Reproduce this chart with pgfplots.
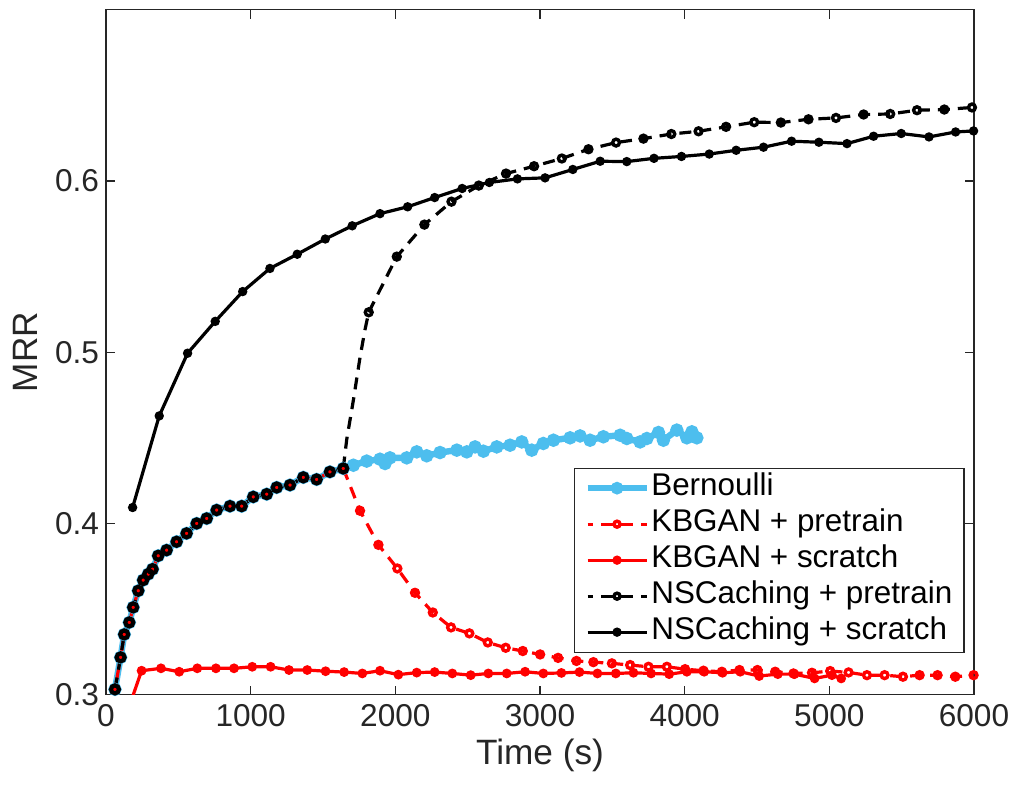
\documentclass[border=0pt]{standalone}
\usepackage{pgfplots}
\pgfplotsset{compat=1.18}
\usepackage{fontspec}
\setmainfont{Liberation Sans}
\definecolor{mblue}{rgb}{0.301,0.745,0.933}
\definecolor{axgray}{rgb}{0.15,0.15,0.15}
\begin{document}
\begin{tikzpicture}
\useasboundingbox (-53pt,-45.2pt) rectangle (456pt,347.35pt);
\begin{axis}[
  scale only axis, width=434pt, height=342.5pt,
  xmin=0, xmax=6000, ymin=0.3, ymax=0.7,
  xtick={0,1000,...,6000}, ytick={0.3,0.4,0.5,0.6},
  /pgf/number format/1000 sep={},
  /pgf/number format/assume math mode=true,
  yticklabel style={/pgf/number format/fixed, /pgf/number format/precision=1, /pgf/number format/fixed zerofill},
  tick align=inside, major tick length=4.5pt,
  axis line style={axgray, line width=0.6pt},
  every tick/.style={axgray, line width=0.6pt},
  tick label style={font=\fontsize{15.8}{19}\selectfont, color=axgray},
  xticklabel style={yshift=-1.2pt},
  xlabel={Time (s)}, ylabel={MRR},
  label style={font=\fontsize{17.6}{21}\selectfont, color=axgray},
  xlabel style={at={(axis description cs:0.5,0)}, anchor=base, yshift=-35pt},
  ylabel style={at={(axis description cs:-0.0933,0.5)}, anchor=center},
  legend style={at={(axis description cs:0.9892,0.0612)}, anchor=south east,
    draw=axgray, line width=0.6pt, font=\fontsize{15.7}{18}\selectfont,
    row sep=0pt, inner xsep=5pt, inner ysep=1pt,
    nodes={inner ysep=0pt, inner xsep=0.8pt, text height=12.5pt, text depth=5.5pt}},
  legend cell align=left,
  legend image code/.code={\draw[mark repeat=2,mark phase=2,#1,dash phase=3.25pt] plot coordinates {(0pt,0pt) (14.75pt,0pt) (29.5pt,0pt)};},
  legend image post style={mark size=1.5pt},
]
% Bernoulli
\addplot[color=mblue, line width=3.2pt, mark=*, mark size=1.7pt, mark options={draw=none}] coordinates {
(62,0.3031) (101,0.3218) (126,0.3352) (161,0.3422) (188,0.3510) (223,0.3607)
(257,0.3669) (292,0.3704) (322,0.3733) (361,0.3811) (419,0.3844) (488,0.3893)
(557,0.3942) (627,0.4000) (696,0.4029) (765,0.4078) (857,0.4101) (938,0.4101)
(1018,0.4155) (1111,0.4171) (1180,0.4210) (1272,0.4224) (1364,0.4269) (1456,0.4257)
(1548,0.4301) (1640,0.4321)
(1710,0.4340) (1802,0.4364) (1894,0.4375) (1929,0.4350) (1963,0.4383) (2079,0.4383)
(2148,0.4418) (2217,0.4395) (2309,0.4414) (2425,0.4428) (2494,0.4418) (2551,0.4447)
(2609,0.4422) (2701,0.4447) (2793,0.4457) (2874,0.4476) (2943,0.4428) (3023,0.4467)
(3093,0.4486) (3208,0.4500) (3277,0.4511) (3346,0.4486) (3438,0.4506) (3554,0.4515)
(3600,0.4496) (3692,0.4476) (3739,0.4496) (3819,0.4531) (3853,0.4486) (3946,0.4545)
(4015,0.4500) (4050,0.4535) (4084,0.4500)
};
\addlegendentry{Bernoulli}
% KBGAN + pretrain: shared first part
\addplot[forget plot, color=red, line width=1.6pt, mark=*, mark size=1.2pt] coordinates {
(62,0.3031) (101,0.3218) (126,0.3352) (161,0.3422) (188,0.3510) (223,0.3607)
(257,0.3669) (292,0.3704) (322,0.3733) (361,0.3811) (419,0.3844) (488,0.3893)
(557,0.3942) (627,0.4000) (696,0.4029) (765,0.4078) (857,0.4101) (938,0.4101)
(1018,0.4155) (1111,0.4171) (1180,0.4210) (1272,0.4224) (1364,0.4269) (1456,0.4257)
(1548,0.4301) (1640,0.4321)
};
% KBGAN + pretrain
\addplot[color=red, line width=1.6pt, dash pattern=on 6pt off 4pt, mark=o, mark size=1.7pt, mark options={solid, line width=1.7pt}] coordinates {
(1640,0.4321)
(1756,0.4074) (1883,0.3875) (2014,0.3737) (2136,0.3595) (2259,0.3480) (2385,0.3393)
(2512,0.3358) (2639,0.3305) (2763,0.3274) (2881,0.3255) (3001,0.3235) (3125,0.3215)
(3252,0.3197) (3369,0.3190) (3497,0.3183) (3623,0.3173) (3750,0.3163) (3877,0.3163)
(4003,0.3149) (4130,0.3140) (4257,0.3134) (4379,0.3144) (4503,0.3144) (4626,0.3134)
(4752,0.3124) (4880,0.3128) (5006,0.3138) (5133,0.3130) (5260,0.3114) (5382,0.3114)
(5509,0.3105) (5624,0.3114) (5748,0.3114) (5871,0.3105) (5997,0.3114)
};
\addlegendentry{KBGAN + pretrain}
% KBGAN + scratch
\addplot[color=red, line width=1.6pt, mark=*, mark size=1.6pt] coordinates {
(160,0.293) (246,0.3140) (380,0.3154) (506,0.3134) (631,0.3154) (760,0.3154)
(885,0.3154) (1011,0.3163) (1138,0.3163) (1265,0.3144) (1391,0.3144) (1518,0.3137)
(1646,0.3132) (1772,0.3124) (1894,0.3140) (2021,0.3117) (2148,0.3129) (2272,0.3132)
(2394,0.3124) (2521,0.3114) (2643,0.3124) (2770,0.3124) (2897,0.3134) (3023,0.3124)
(3148,0.3127) (3273,0.3132) (3397,0.3124) (3524,0.3124) (3646,0.3128) (3768,0.3124)
(3893,0.3120) (4015,0.3134) (4135,0.3134) (4262,0.3128) (4384,0.3134) (4515,0.3109)
(4644,0.3120) (4759,0.3120) (4898,0.3095) (5018,0.3114) (5082,0.3095)
};
\addlegendentry{KBGAN + scratch}
% NSCaching + pretrain: shared first part
\addplot[forget plot, color=black, line width=1.6pt, dash pattern=on 6pt off 4pt, mark=o, mark size=2pt, mark options={solid, line width=2.1pt}] coordinates {
(62,0.3031) (101,0.3218) (126,0.3352) (161,0.3422) (188,0.3510) (223,0.3607)
(257,0.3669) (292,0.3704) (322,0.3733) (361,0.3811) (419,0.3844) (488,0.3893)
(557,0.3942) (627,0.4000) (696,0.4029) (765,0.4078) (857,0.4101) (938,0.4101)
(1018,0.4155) (1111,0.4171) (1180,0.4210) (1272,0.4224) (1364,0.4269) (1456,0.4257)
(1548,0.4301) (1640,0.4321)
};
% NSCaching + pretrain: rise
\addplot[forget plot, color=black, line width=1.6pt, dash pattern=on 6pt off 4pt] coordinates {
(1640,0.4321) (1664,0.449) (1710,0.472) (1756,0.497) (1790,0.513) (1816,0.5233)
};
% NSCaching + pretrain: after
\addplot[color=black, line width=1.6pt, dash pattern=on 6pt off 4pt, mark=o, mark size=1.7pt, mark options={solid, line width=1.7pt}] coordinates {
(1816,0.5233) (2010,0.5558) (2201,0.5745) (2388,0.5879) (2577,0.5973) (2765,0.6043)
(2959,0.6086) (3151,0.6131) (3335,0.6185) (3526,0.6224) (3715,0.6247) (3908,0.6274)
(4096,0.6290) (4286,0.6316) (4481,0.6343) (4665,0.6341) (4856,0.6360) (5046,0.6368)
(5237,0.6388) (5421,0.6391) (5606,0.6413) (5795,0.6417) (5986,0.6429)
};
\addlegendentry{NSCaching + pretrain}
% NSCaching + scratch
\addplot[color=black, line width=1.6pt, mark=*, mark size=1.5pt] coordinates {
(184,0.4093) (368,0.4628) (564,0.4994) (755,0.5180) (945,0.5354) (1133,0.5489)
(1322,0.5572) (1516,0.5661) (1702,0.5738) (1894,0.5809) (2085,0.5849) (2272,0.5903)
(2462,0.5956) (2650,0.5991) (2844,0.6012) (3035,0.6018) (3227,0.6067) (3416,0.6115)
(3600,0.6113) (3788,0.6132) (3978,0.6143) (4170,0.6157) (4356,0.6179) (4545,0.6197)
(4739,0.6232) (4928,0.6226) (5122,0.6218) (5306,0.6261) (5497,0.6277) (5689,0.6257)
(5873,0.6286) (5997,0.6292)
};
\addlegendentry{NSCaching + scratch}
\end{axis}
\end{tikzpicture}
\end{document}
